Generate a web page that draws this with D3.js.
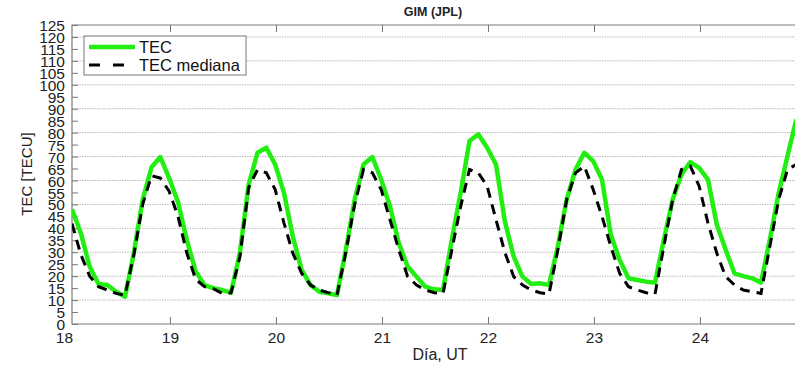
<!DOCTYPE html>
<html><head><meta charset="utf-8">
<script src="https://cdn.jsdelivr.net/npm/d3@7/dist/d3.min.js"></script>
<style>body{margin:0;background:#fff}svg{display:block;font-family:"Liberation Sans",Arial,sans-serif}</style>
</head><body>
<script>
// 2-hourly samples starting near day 18.075
const startDay = 18.0755;
const stepDays = 2 / 24;
const tec = [48,38,24,16.7,16.3,13.5,11.4,29.6,52,65.5,69.8,61,51,35,22,16.3,15,14.2,13.1,29.6,58.3,71.6,73.7,66.7,54.8,36.6,22.6,16.3,13.5,12.8,12.1,31,52,66.7,69.8,60.4,49.2,33.8,24,19.8,15.6,14.5,14.2,35.3,54.9,76.5,79.3,73.7,66.7,43,28.2,19.8,16.7,17,16.3,32.4,52,64.6,71.6,68.1,60.4,37.3,26.8,19.1,18.4,17.7,17.3,35.2,52,62.5,67.7,65.3,60.4,41.5,31,21.2,20,19.1,17.3,35.2,54.8,70.2,85.6];
const tecMediana = [42,29,20,15.6,14.2,12.8,12,29,50,62,61,55.5,45,29.6,18.7,15.6,14.8,12.8,13,28,57,64.5,63.2,56.2,42.2,29.6,21.2,16.3,14.2,13.1,12.1,30,50,64.6,63.2,56.2,43.6,31,19.8,16.3,14.2,13.1,12.8,31,49.2,64.6,63.2,57.6,43.6,30,19.8,16.3,14.2,13.1,12.5,31,52,63.2,66,56.2,45,32.4,21.2,15.6,14.2,13.1,12.5,32.4,52,64.6,66,57.6,42.2,29.6,19.8,16.3,14.2,13.5,12.8,32.4,52,64.6,66.7];
const xTicks = [18,19,20,21,22,23,24];
const yTicks = d3.range(0, 126, 5);
const yGrid = d3.range(10, 121, 10);
const legendLabels = ["TEC", "TEC mediana"];

const W = 795, H = 365;
const L = 72, R = 795, T = 25, B = 324;
const svg = d3.select("body").append("svg").attr("width", W).attr("height", H);

const x = d3.scaleLinear().domain([startDay, startDay + (R - L) / 106]).range([L, R]);
const y = d3.scaleLinear().domain([0, 125]).range([B, T]);

// grid
svg.append("g").selectAll("line").data(yGrid).join("line")
  .attr("x1", L).attr("x2", R).attr("y1", d => y(d)).attr("y2", d => y(d))
  .attr("stroke", "#b8b8b8").attr("stroke-width", 1).attr("stroke-dasharray", "1.5,1");

// axes
const gx = svg.append("g").attr("transform", `translate(0,${B})`)
  .call(d3.axisBottom(x).tickValues(xTicks).tickFormat(d3.format("d")).tickSizeInner(-7).tickSizeOuter(0).tickPadding(8));
gx.select(".domain").remove();
gx.selectAll(".tick line").attr("stroke", "#777").filter(d => x(d) < L).remove();
gx.selectAll("text").attr("font-size", 15.5).attr("fill", "#222");

const gxt = svg.append("g").attr("transform", `translate(0,${T})`)
  .call(d3.axisTop(x).tickValues(xTicks.filter(d => x(d) >= L)).tickFormat("").tickSizeInner(-7).tickSizeOuter(0));
gxt.select(".domain").remove();
gxt.selectAll(".tick line").attr("stroke", "#777");

const gy = svg.append("g").attr("transform", `translate(${L},0)`)
  .call(d3.axisLeft(y).tickValues(yTicks).tickFormat(d3.format("d")).tickSizeInner(-6).tickSizeOuter(0).tickPadding(7));
gy.select(".domain").remove();
gy.selectAll(".tick line").attr("stroke", "#777");
gy.selectAll("text").attr("font-size", 15.5).attr("fill", "#222").attr("dy", "0.36em");

// frame
svg.append("path").attr("d", `M${R},${T}H${L}V${B}H${R}`).attr("fill", "none").attr("stroke", "#7a7a7a").attr("stroke-width", 1.2);

// clip
svg.append("clipPath").attr("id", "clip").append("rect").attr("x", L).attr("y", T - 5).attr("width", R - L).attr("height", B - T + 5);

const line = d3.line().x((d, i) => x(startDay + i * stepDays)).y(d => y(d));
svg.append("path").datum(tec).attr("clip-path", "url(#clip)").attr("d", line)
  .attr("fill", "none").attr("stroke", "#22ee11").attr("stroke-width", 4.5).attr("stroke-linejoin", "round");
svg.append("path").datum(tecMediana).attr("clip-path", "url(#clip)").attr("d", line)
  .attr("fill", "none").attr("stroke", "#000").attr("stroke-width", 3).attr("stroke-dasharray", "10,7");

// title & labels
svg.append("text").attr("x", 433).attr("y", 16).attr("text-anchor", "middle").attr("font-weight", "bold").attr("font-size", 12.5).attr("fill", "#222").text("GIM (JPL)");
svg.append("text").attr("x", 440).attr("y", 360).attr("text-anchor", "middle").attr("font-size", 16).attr("fill", "#222").text("Día, UT");
svg.append("text").attr("transform", "translate(32,174) rotate(-90)").attr("text-anchor", "middle").attr("font-size", 15).attr("fill", "#222").text("TEC [TECU]");

// legend
const lg = svg.append("g");
lg.append("rect").attr("x", 84).attr("y", 36).attr("width", 162).attr("height", 39).attr("fill", "#fff").attr("stroke", "#777").attr("stroke-width", 1);
lg.append("line").attr("x1", 89).attr("x2", 135).attr("y1", 47).attr("y2", 47).attr("stroke", "#22ee11").attr("stroke-width", 4.5);
lg.append("line").attr("x1", 89).attr("x2", 135).attr("y1", 65).attr("y2", 65).attr("stroke", "#000").attr("stroke-width", 3).attr("stroke-dasharray", "11,13");
lg.selectAll("text.lbl").data(legendLabels).join("text").attr("class", "lbl")
  .attr("x", 139).attr("y", (d, i) => 53 + i * 18).attr("font-size", 16.5).attr("fill", "#111").text(d => d);
</script>
</body></html>
